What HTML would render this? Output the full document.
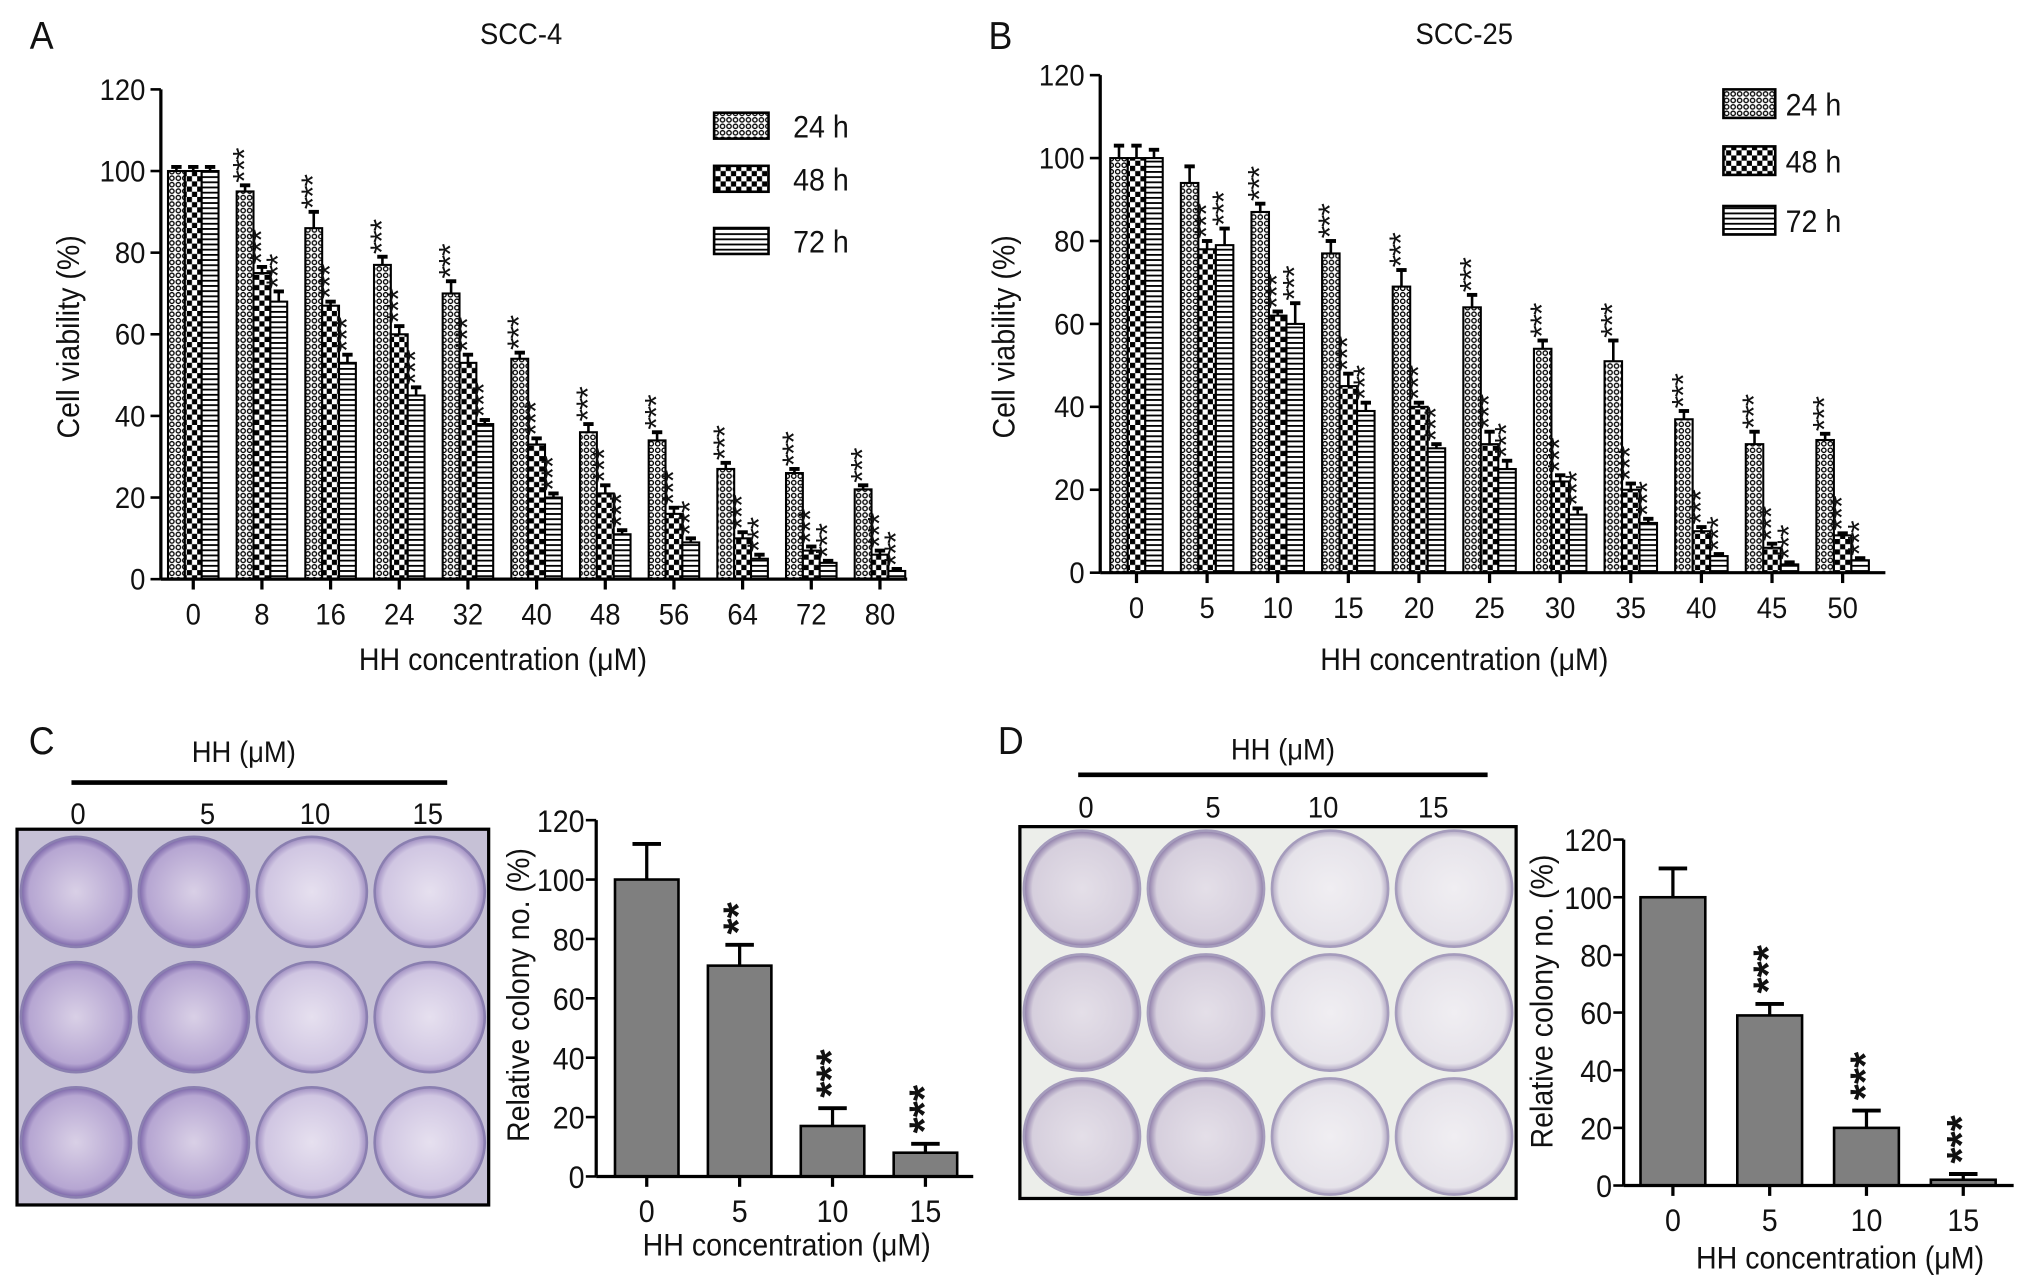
<!DOCTYPE html>
<html><head><meta charset="utf-8"><style>
html,body{margin:0;padding:0;background:#fff;}
svg{display:block;font-family:"Liberation Sans",sans-serif;}
</style></head><body>
<svg id="fig" width="2032" height="1284" viewBox="0 0 1568 991" xmlns="http://www.w3.org/2000/svg">
<defs>
<pattern id="p24" width="5" height="5" patternUnits="userSpaceOnUse"><rect width="5" height="5" fill="#fff"/><circle cx="2.5" cy="2.5" r="1.7" fill="none" stroke="#000" stroke-width="1"/></pattern>
<pattern id="p48" width="8" height="8" patternUnits="userSpaceOnUse"><rect width="8" height="8" fill="#fff"/><rect width="4" height="4" fill="#000"/><rect x="4" y="4" width="4" height="4" fill="#000"/></pattern>
<pattern id="p72" width="4" height="4" patternUnits="userSpaceOnUse"><rect width="4" height="4" fill="#fff"/><rect y="0" width="4" height="1.4" fill="#000"/></pattern>
<radialGradient id="wellC" cx="50%" cy="50%" r="50%"><stop offset="0%" stop-color="#d9d0e6"/><stop offset="85%" stop-color="#b6a6d2"/><stop offset="100%" stop-color="#7a64a8"/></radialGradient>
<radialGradient id="wellC2" cx="50%" cy="50%" r="50%"><stop offset="0%" stop-color="#e6e0ef"/><stop offset="85%" stop-color="#d0c6e2"/><stop offset="100%" stop-color="#9e8cc0"/></radialGradient>
<radialGradient id="wellD" cx="50%" cy="50%" r="50%"><stop offset="0%" stop-color="#e4dfe8"/><stop offset="85%" stop-color="#d6cfdd"/><stop offset="100%" stop-color="#8a78a6"/></radialGradient>
<radialGradient id="wellD2" cx="50%" cy="50%" r="50%"><stop offset="0%" stop-color="#f0eef2"/><stop offset="88%" stop-color="#e6e3ea"/><stop offset="100%" stop-color="#b0a6c2"/></radialGradient>
</defs>
<g id="root"></g>
</svg>
<script>
// ---- Panel A data ----
const catsA = ['0','8','16','24','32','40','48','56','64','72','80'];
const a24 = [100,95,86,77,70,54,36,34,27,26,22];
const a48 = [100,75,67,60,53,33,21,16,10,7,6];
const a72 = [100,68,53,45,38,20,11,9,5,4,2];
const a24e = [1,1.5,4,2,3,1.5,2,2,1.5,1,1];
const a48e = [1,1.5,1,2,2,1.5,2,1.5,1.5,1,1];
const a72e = [1,2.5,2,2,1,1,1,1,1,0.5,0.5];
// ---- Panel B data ----
const catsB = ['0','5','10','15','20','25','30','35','40','45','50'];
const b24 = [100,94,87,77,69,64,54,51,37,31,32];
const b48 = [100,78,62,45,40,31,22,20,10,6,9];
const b72 = [100,79,60,39,30,25,14,12,4,2,3];
const b24e = [3,4,2,3,4,3,2,5,2,3,1.5];
const b48e = [3,2,1,3,1,3,1.5,1.5,1,1,0.5];
const b72e = [2,4,5,2,1,2,1.5,1,0.5,0.5,0.5];
const yTicks = [0,20,40,60,80,100,120];
// ---- Panel C / D data ----
const catsCD = ['0','5','10','15'];
const cVals = [100,71,17,8];
const cErr = [12,7,6,3];
const cStars = ['','**','***','***'];
const dVals = [100,59,20,2];
const dErr = [10,4,6,2];
const dStars = ['','***','***','***'];

const NS='http://www.w3.org/2000/svg';
const root=document.getElementById('root');
const SX=0.92;
function el(tag,attrs,parent,text){const e=document.createElementNS(NS,tag);for(const k in attrs)e.setAttribute(k,attrs[k]);if(text!==undefined)e.textContent=text;(parent||root).appendChild(e);return e;}
function txt(x,y,s,size,name,anchor,rot){
  const tr=`translate(${x},${y})`+(rot?` rotate(${rot})`:'')+` scale(${SX},1)`;
  const t=el('text',{x:0,y:0,'font-size':size,'text-anchor':anchor||'middle',fill:'#111',transform:tr},root,s);
  return t;}

function groupedChart(o){
  const y=v=>o.y0-(v/120)*(o.y0-o.y120);
  const x=i=>o.x0+o.step*i;
  const g=el('g',{});
  
  
  const series=[o.s24,o.s48,o.s72], errs=[o.e24,o.e48,o.e72], pats=['url(#p24)','url(#p48)','url(#p72)'];
  const bw=o.bw;
  o.cats.forEach((c,i)=>{
    series.forEach((s,k)=>{
      const cx=x(i)+(k-1)*bw;
      const top=y(s[i]);
      const r=el('rect',{x:cx-bw/2,y:top,width:bw,height:o.y0-top,fill:pats[k],stroke:'#000','stroke-width':1.6},g);
      
      
      const et=y(s[i]+errs[k][i]);
      el('line',{x1:cx,x2:cx,y1:top,y2:et,stroke:'#000','stroke-width':2},g);
      el('line',{x1:cx-4,x2:cx+4,y1:et,y2:et,stroke:'#000','stroke-width':3},g);
      if(i>0 && !(o.noStar && o.noStar(i,k))){
        const st=el('text',{x:0,y:0,'font-size':25,'text-anchor':'start',fill:'#111','letter-spacing':'-1',transform:`translate(${cx+8},${et-2}) rotate(-90)`},g,'***');
        
        
      }
    });
    el('line',{x1:x(i),x2:x(i),y1:o.y0,y2:o.y0+8,stroke:'#000','stroke-width':2.5},g);
    txt(x(i),o.y0+35,c,23,'x-tick-label');
  });
  el('line',{x1:o.ax,x2:o.ax,y1:o.y120,y2:o.y0,stroke:'#000','stroke-width':2.5},g);
  el('line',{x1:o.ax,x2:o.xend,y1:o.y0,y2:o.y0,stroke:'#000','stroke-width':2.5},g);
  yTicks.forEach(v=>{el('line',{x1:o.ax-8,x2:o.ax,y1:y(v),y2:y(v),stroke:'#000','stroke-width':2},g);txt(o.ax-12,y(v)+8,String(v),23,'y-tick-label','end');});
}

// Panel A
txt(32,38,'A',30,'panel-label-a');
txt(402,34,'SCC-4',23,'chart-title-a');
groupedChart({name:'chart-a',cats:catsA,s24:a24,s48:a48,s72:a72,e24:a24e,e48:a48e,e72:a72e,x0:149,step:53,bw:13,y0:447,y120:69,ax:124,xend:700});
txt(61,260,'Cell viability (%)',24,'y-axis-title-a','middle',-90);
txt(388,517,'HH concentration (\u03bcM)',24,'x-axis-title-a');
[[87,'url(#p24)','24 h'],[128,'url(#p48)','48 h'],[176,'url(#p72)','72 h']].forEach(l=>{
  const r=el('rect',{x:551,y:l[0],width:42,height:20,fill:l[1],stroke:'#000','stroke-width':2});
  
  txt(612,l[0]+19,l[2],24,'legend-entry-a','start');
});

// Panel B
txt(772,38,'B',30,'panel-label-b');
txt(1130,34,'SCC-25',23,'chart-title-b');
groupedChart({name:'chart-b',cats:catsB,s24:b24,s48:b48,s72:b72,e24:b24e,e48:b48e,e72:b72e,x0:877,step:54.5,bw:13.5,y0:442,y120:58,ax:849,xend:1455,noStar:(i,k)=>i===1&&k===0});
txt(783,260,'Cell viability (%)',24,'y-axis-title-b','middle',-90);
txt(1130,517,'HH concentration (\u03bcM)',24,'x-axis-title-b');
[[69,'url(#p24)','24 h'],[113,'url(#p48)','48 h'],[159,'url(#p72)','72 h']].forEach(l=>{
  const r=el('rect',{x:1330,y:l[0],width:40,height:22,fill:l[1],stroke:'#000','stroke-width':2});
  
  txt(1378,l[0]+20,l[2],24,'legend-entry-b','start');
});

// Plates
function plate(o){
  const g=el('g',{});
  
  
  el('rect',{x:o.x,y:o.y,width:o.w,height:o.h,fill:o.bg,stroke:'#000','stroke-width':2.5},g);
  const cw=o.w/4, ch=o.h/3;
  for(let r=0;r<3;r++)for(let c=0;c<4;c++){
    const cx=o.x+cw*(c+0.5), cy=o.y+ch*(r+0.5);
    const w=el('circle',{cx:cx,cy:cy,r:Math.min(cw,ch)/2-3,fill:c<2?o.g1:o.g2,stroke:o.rim,'stroke-width':2},g);
    
  }
}
// Panel C
txt(32,582,'C',30,'panel-label-c');
txt(188,588,'HH (\u03bcM)',23,'plate-title-c');
el('line',{x1:55,x2:345,y1:604,y2:604,stroke:'#000','stroke-width':3.5});
[[60,'0'],[160,'5'],[243,'10'],[330,'15']].forEach(l=>txt(l[0],636,l[1],23,'plate-dose-label'));
plate({name:'plate-image-c',x:13,y:640,w:364,h:290,bg:'#c6c1d6',g1:'url(#wellC)',g2:'url(#wellC2)',rim:'#8a7fb0'});
// Panel D
txt(780,582,'D',30,'panel-label-d');
txt(990,586,'HH (\u03bcM)',23,'plate-title-d');
el('line',{x1:832,x2:1148,y1:598,y2:598,stroke:'#000','stroke-width':3.5});
[[838,'0'],[936,'5'],[1021,'10'],[1106,'15']].forEach(l=>txt(l[0],631,l[1],23,'plate-dose-label'));
plate({name:'plate-image-d',x:787,y:638,w:383,h:287,bg:'#eceeea',g1:'url(#wellD)',g2:'url(#wellD2)',rim:'#a59cbc'});

function simpleChart(o){
  const y=v=>o.y0-(v/120)*(o.y0-o.y120);
  const x=i=>o.x0+o.step*i;
  const g=el('g',{});
  
  
  o.cats.forEach((c,i)=>{
    const top=y(o.vals[i]);
    const r=el('rect',{x:x(i)-o.bw/2,y:top,width:o.bw,height:o.y0-top,fill:'#7f7f7f',stroke:'#000','stroke-width':2},g);
    
    
    const et=y(o.vals[i]+o.err[i]);
    el('line',{x1:x(i),x2:x(i),y1:top,y2:et,stroke:'#000','stroke-width':2.5},g);
    el('line',{x1:x(i)-11,x2:x(i)+11,y1:et,y2:et,stroke:'#000','stroke-width':3},g);
    if(o.stars[i]){
      const st=el('text',{x:0,y:0,'font-size':32,'font-weight':'bold','text-anchor':'start',fill:'#111',transform:`translate(${x(i)+10},${et-8}) rotate(-90)`},g,o.stars[i]);
      
      
    }
    el('line',{x1:x(i),x2:x(i),y1:o.y0,y2:o.y0+8,stroke:'#000','stroke-width':2.5},g);
    txt(x(i),o.y0+35,c,24,'x-tick-label');
  });
  el('line',{x1:o.ax,x2:o.ax,y1:o.y120,y2:o.y0,stroke:'#000','stroke-width':2.5},g);
  el('line',{x1:o.ax,x2:o.xend,y1:o.y0,y2:o.y0,stroke:'#000','stroke-width':2.5},g);
  yTicks.forEach(v=>{el('line',{x1:o.ax-8,x2:o.ax,y1:y(v),y2:y(v),stroke:'#000','stroke-width':2},g);txt(o.ax-9,y(v)+9,String(v),24,'y-tick-label','end');});
}
simpleChart({name:'chart-c',cats:catsCD,vals:cVals,err:cErr,stars:cStars,x0:499,step:71.7,bw:49,y0:908,y120:633,ax:460,xend:751});
txt(408,768,'Relative colony no. (%)',24,'y-axis-title-c','middle',-90);
txt(607,969,'HH concentration (\u03bcM)',24,'x-axis-title-c');
simpleChart({name:'chart-d',cats:catsCD,vals:dVals,err:dErr,stars:dStars,x0:1291,step:74.7,bw:50,y0:915,y120:648,ax:1253,xend:1554});
txt(1198,773,'Relative colony no. (%)',24,'y-axis-title-d','middle',-90);
txt(1420,979,'HH concentration (\u03bcM)',24,'x-axis-title-d');
</script>
</body></html>
